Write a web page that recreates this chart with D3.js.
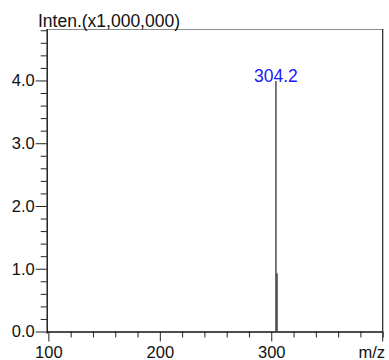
<!DOCTYPE html>
<html>
<head>
<meta charset="utf-8">
<script src="https://cdn.jsdelivr.net/npm/d3@7"></script>
<style>
  html, body { margin: 0; padding: 0; background: #fff; }
  svg { display: block; font-family: "Liberation Sans", Arial, sans-serif; }
</style>
</head>
<body>
<svg id="chart" width="389" height="360"></svg>
<script>
// Mass spectrum: peaks as m/z positions and intensities (x1,000,000)
const peakMz = [304.2, 305.2];
const peakIntensity = [3.99, 0.93];
const peakLabels = ["304.2", null];

const xDomain = [98.5, 400];
const yDomain = [0, 4.82];
const xMajorTicks = [100, 200, 300];
const xMinorStep = 20;
const yMajorTicks = [0, 1, 2, 3, 4];
const yTickLabels = ["0.0", "1.0", "2.0", "3.0", "4.0"];
const yMinorStep = 0.2;

const yTitle = "Inten.(x1,000,000)";
const xTitle = "m/z";

const svg = d3.select("#chart");
const plotLeft = 46.7, plotRight = 382.7, plotTop = 29, plotBottom = 331.5;

const x = d3.scaleLinear().domain(xDomain).range([plotLeft, plotRight]);
const y = d3.scaleLinear().domain(yDomain).range([plotBottom, plotTop]);

// frame: top edge is lighter grey, right edge dark
svg.append("line").attr("x1", plotLeft).attr("x2", plotRight).attr("y1", plotTop + 0.5).attr("y2", plotTop + 0.5)
  .attr("stroke", "#8a8a8a").attr("stroke-width", 1.2);
svg.append("line").attr("x1", plotRight).attr("x2", plotRight).attr("y1", plotTop).attr("y2", plotBottom)
  .attr("stroke", "#222").attr("stroke-width", 1.2);

// x axis: minor ticks every 20, labelled majors at 100s
const xMinor = d3.range(100, 400 + 0.001, xMinorStep).filter(v => !xMajorTicks.includes(v));
const xAxisMinor = d3.axisBottom(x).tickValues(xMinor).tickSize(6).tickFormat("");
const xAxisMajor = d3.axisBottom(x).tickValues(xMajorTicks).tickSize(10).tickSizeOuter(0)
  .tickFormat(d3.format("d")).tickPadding(5);

const gxMinor = svg.append("g").attr("transform", `translate(0,${plotBottom})`).call(xAxisMinor);
gxMinor.select(".domain").remove();
const gxMajor = svg.append("g").attr("transform", `translate(0,${plotBottom})`).call(xAxisMajor);
gxMajor.select(".domain").attr("d", `M${plotLeft},0.5H${plotRight}`).attr("stroke", "#111").attr("stroke-width", 1.4);
// extra tick at 400 on the right edge
svg.append("line").attr("x1", x(400)).attr("x2", x(400)).attr("y1", plotBottom).attr("y2", plotBottom + 10)
  .attr("stroke", "#222");

svg.selectAll(".tick line").attr("stroke", "#222");
gxMajor.selectAll(".tick text").attr("font-size", 16.5).attr("fill", "#111")
  .attr("font-family", "Liberation Sans, Arial, sans-serif");

// y axis
const yMinor = d3.range(0, 4.8 + 0.001, yMinorStep).map(v => +v.toFixed(1))
  .filter(v => !yMajorTicks.includes(v));
const yAxisMinor = d3.axisLeft(y).tickValues(yMinor).tickSize(6).tickFormat("");
const yAxisMajor = d3.axisLeft(y).tickValues(yMajorTicks).tickSize(11).tickSizeOuter(0)
  .tickFormat((d, i) => yTickLabels[i]).tickPadding(1);

const gyMinor = svg.append("g").attr("transform", `translate(${plotLeft},0)`).call(yAxisMinor);
gyMinor.select(".domain").remove();
const gyMajor = svg.append("g").attr("transform", `translate(${plotLeft},0)`).call(yAxisMajor);
gyMajor.select(".domain").attr("d", `M0.5,${plotTop}V${plotBottom + 2}`).attr("stroke", "#111").attr("stroke-width", 1.4);
svg.selectAll(".tick line").attr("stroke", "#222");
gyMajor.selectAll(".tick text").attr("font-size", 16.5).attr("fill", "#111")
  .attr("font-family", "Liberation Sans, Arial, sans-serif");

// axis titles
svg.append("text").attr("x", 38).attr("y", 26.5).attr("font-size", 17.5).attr("fill", "#111")
  .attr("textLength", 142).attr("lengthAdjust", "spacingAndGlyphs").text(yTitle);
svg.append("text").attr("x", 385).attr("y", 358).attr("text-anchor", "end")
  .attr("font-size", 16.5).attr("fill", "#111").text(xTitle);

// peaks
svg.append("g").selectAll("line").data(peakMz).join("line")
  .attr("x1", d => x(d)).attr("x2", d => x(d))
  .attr("y1", plotBottom).attr("y2", (d, i) => y(peakIntensity[i]))
  .attr("stroke", "#333").attr("stroke-width", 1.3);

svg.append("g").selectAll("text").data(peakMz.filter((d, i) => peakLabels[i]))
  .join("text")
  .attr("x", d => x(d)).attr("y", d => y(peakIntensity[peakMz.indexOf(d)]) + 1)
  .attr("text-anchor", "middle").attr("font-size", 17.5).attr("fill", "#1a1aff")
  .text(d => peakLabels[peakMz.indexOf(d)]);
</script>
</body>
</html>
